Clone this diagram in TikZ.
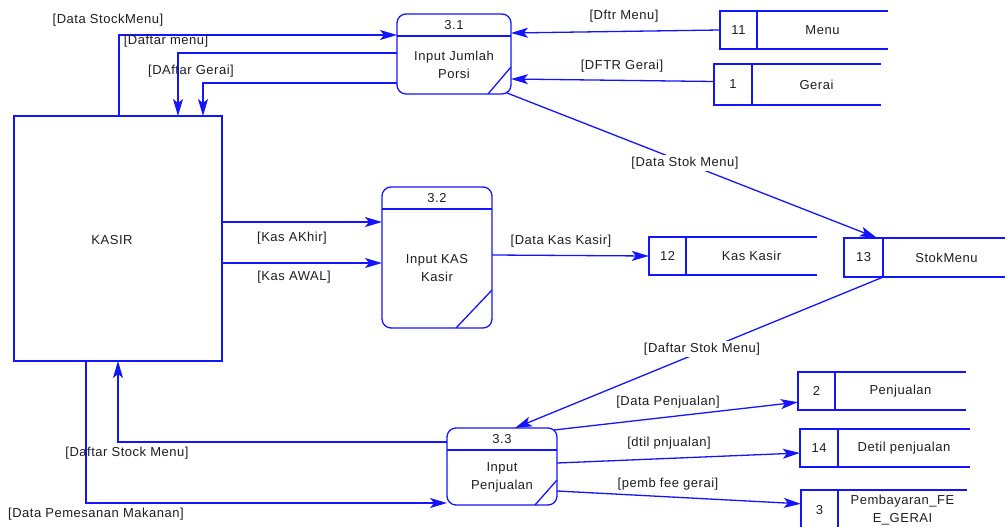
\documentclass[tikz,border=0pt]{standalone}
\usepackage{fontspec}
\setmainfont{Liberation Sans}[LetterSpace=4]
\usetikzlibrary{arrows.meta,calc,fit}

\definecolor{dfdblue}{RGB}{20,20,255}
\definecolor{dfdtext}{RGB}{30,30,30}
\newcommand\dfdfont{\fontsize{13}{18}\selectfont}

\tikzset{
  flowline/.style={draw=dfdblue, line width=1.3pt},
  flow/.style={flowline, -{Stealth[length=17pt,width=10pt,inset=4pt]}},
  boxtext/.style={text=dfdtext, font=\dfdfont, inner sep=1pt},
  flowlabel/.style={text=dfdtext, font=\dfdfont, inner sep=1pt},
  cutlabel/.style={flowlabel, fill=white, inner sep=2pt},
}

% data store: name, left x, divider x, right x, top y, bottom y, id, title
\newcommand\dfdstore[8]{%
  \node[fit={(#2,#5) (#4,#6)}, inner sep=0pt] (#1) {};
  \draw[flowline] (#4,#5) -- (#2,#5) -- (#2,#6) -- (#4,#6);
  \draw[flowline] (#3,#5) -- (#3,#6);
  \node[boxtext] (#1-id) at ({(#2+#3)/2},{(#5+#6)/2}) {#7};
  \node[boxtext, align=center] (#1-title) at ({(#3+#4)/2},{(#5+#6)/2}) {#8};
}

% process: name, x1, y1, x2, y2, number, text, corner dx, corner dy
\newcommand\dfdproc[9]{%
  \node[fit={(#2,#3) (#4,#5)}, inner sep=0pt, outer sep=0pt, draw=dfdblue,
        line width=1.3pt, rounded corners=9pt] (#1) {};
  \draw[flowline] ({#2},{#3+22}) -- ({#4},{#3+22});
  \node[boxtext] (#1-num) at ({(#2+#4)/2},{#3+11}) {#6};
  \node[boxtext, align=center] (#1-text) at ({(#2+#4)/2},{(#3+22+#5)/2}) {#7};
  \draw[flowline] ({#4-#8},{#5}) -- ({#4},{#5-#9});
}

\begin{document}
\begin{tikzpicture}[x=1pt, y=-1pt]
\useasboundingbox (0,0) rectangle (1005,527);
\clip (0,0) rectangle (1005,527);

% external entity
\node[fit={(14,116) (222,361)}, inner sep=0pt, outer sep=0pt, draw=dfdblue,
      line width=1.3pt] (kasir) {};
\node[boxtext] (kasir-name) at (112,240) {KASIR};

% processes
\dfdproc{p31}{397}{14}{511}{94}{3.1}{Input Jumlah\\Porsi}{23}{27}
\dfdproc{p32}{382}{187}{492}{328}{3.2}{Input KAS\\Kasir}{36}{38}
\dfdproc{p33}{447}{428}{557}{505}{3.3}{Input\\Penjualan}{22}{25}

% data stores
\dfdstore{menu}{720}{757}{888}{11}{49}{11}{Menu}
\dfdstore{gerai}{714}{752}{881}{64}{105}{1}{Gerai}
\dfdstore{kas}{649}{686}{817}{237}{275}{12}{Kas Kasir}
\dfdstore{stok}{844}{883}{1010}{238}{277}{13}{StokMenu}
\dfdstore{penj}{798}{835}{966}{372}{410}{2}{Penjualan}
\dfdstore{detil}{800}{838}{970}{429}{467}{14}{Detil penjualan}
\dfdstore{fee}{801}{838}{967}{490}{530}{3}{Pembayaran\_FE\\E\_GERAI}

% flows around process 3.1
\draw[flow] ($(kasir.north west)+(105,0)$) |- ($(p31.north west)+(0,21)$);
\draw[flow] ($(p31.north west)+(0,39)$) -| ($(kasir.north west)+(164,0)$);
\draw[flow] ($(p31.north west)+(0,69)$) -| ($(kasir.north west)+(189,0)$);
\draw[flow] (menu.west) -- ($(p31.north east)+(0,19)$);
\draw[flow] ($(gerai.west)+(0,-3)$) -- ($(p31.north east)+(0,65)$);
\draw[flow] ($(p31.south east)+(-4,-1)$) -- ($(stok.north west)+(33,0)$);

% flows around process 3.2
\draw[flow] ($(kasir.north east)+(0,106)$) -- ($(p32.north west)+(0,35)$);
\draw[flow] ($(kasir.north east)+(0,147)$) -- ($(p32.north west)+(0,76)$);
\draw[flow] ($(p32.north east)+(0,68)$) -- (kas.west);

% flows around process 3.3
\draw[flow] ($(stok.south west)+(39,0)$) -- ($(p33.north west)+(68,0)$);
\draw[flow] ($(p33.north west)+(0,14)$) -| ($(kasir.south west)+(104,0)$);
\draw[flow] ($(kasir.south west)+(72,0)$) |- ($(p33.south west)+(0,-2)$);
\draw[flow] ($(p33.north east)+(-3,2)$) -- ($(penj.south west)+(0,-8)$);
\draw[flow] ($(p33.north east)+(0,35)$) -- ($(detil.west)+(0,5)$);
\draw[flow] ($(p33.north east)+(0,63)$) -- ($(fee.north west)+(0,14)$);

% flow labels
\node[flowlabel] (l-dsm) at (108,20) {[Data StockMenu]};
\node[flowlabel] (l-dm) at (166,41) {[Daftar menu]};
\node[flowlabel] (l-dg) at (191,71) {[DAftar Gerai]};
\node[flowlabel] (l-fm) at (624,16) {[Dftr Menu]};
\node[flowlabel] (l-fg) at (622,66) {[DFTR Gerai]};
\node[cutlabel] (l-dstm) at (685,163) {[Data Stok Menu]};
\node[flowlabel] (l-ka) at (292,238) {[Kas AKhir]};
\node[flowlabel] (l-kw) at (294,277) {[Kas AWAL]};
\node[flowlabel] (l-dkk) at (561,241) {[Data Kas Kasir]};
\node[cutlabel] (l-dfsm) at (702,349) {[Daftar Stok Menu]};
\node[flowlabel] (l-dfstm) at (127,453) {[Daftar Stock Menu]};
\node[flowlabel] (l-dpm) at (96,514) {[Data Pemesanan Makanan]};
\node[flowlabel] (l-dp) at (668,402) {[Data Penjualan]};
\node[flowlabel] (l-dtp) at (669,443) {[dtil pnjualan]};
\node[flowlabel] (l-pfg) at (668,484) {[pemb fee gerai]};
\end{tikzpicture}
\end{document}
